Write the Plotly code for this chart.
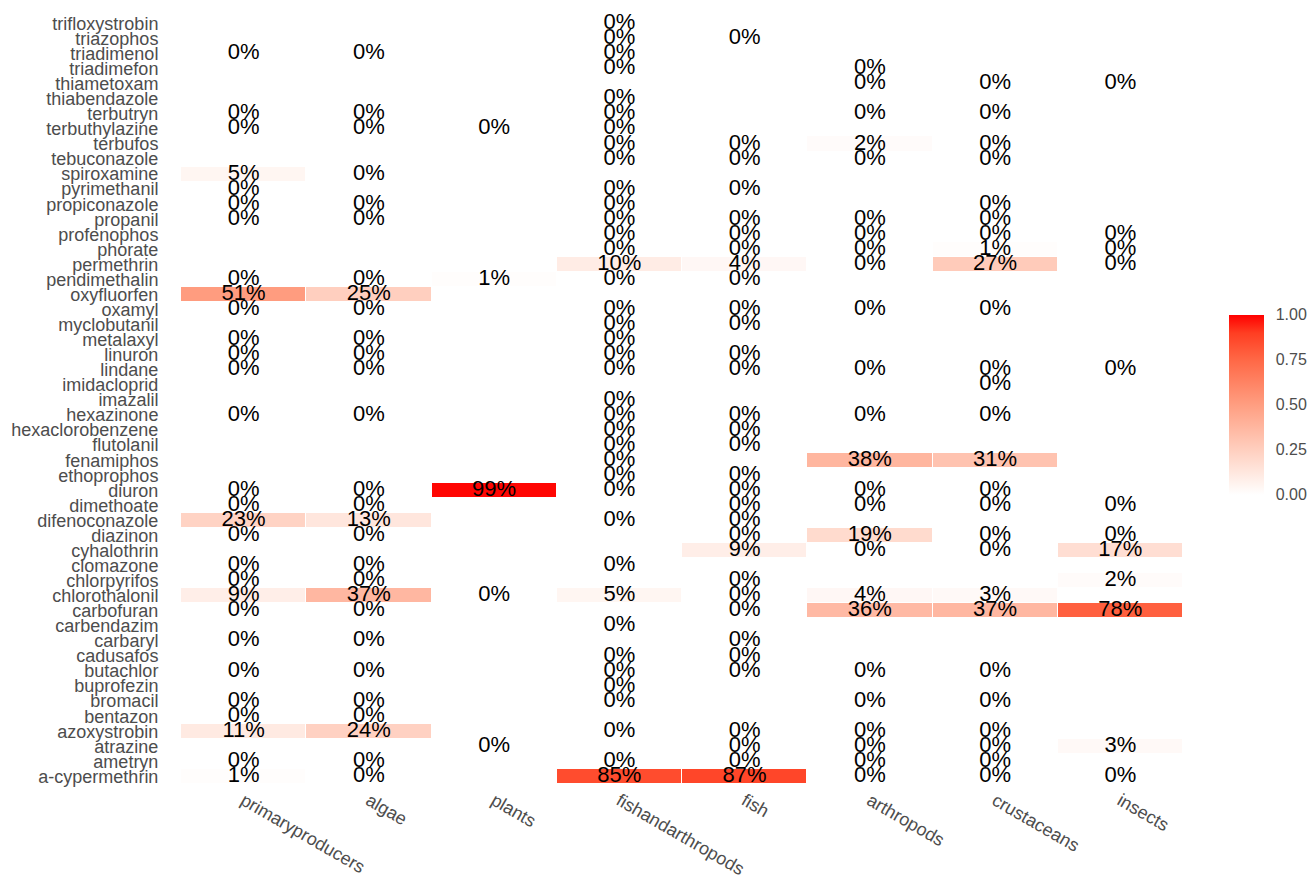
import plotly.graph_objects as go

pesticides = [
    "trifloxystrobin", "triazophos", "triadimenol", "triadimefon", "thiametoxam",
    "thiabendazole", "terbutryn", "terbuthylazine", "terbufos", "tebuconazole",
    "spiroxamine", "pyrimethanil", "propiconazole", "propanil", "profenophos",
    "phorate", "permethrin", "pendimethalin", "oxyfluorfen", "oxamyl",
    "myclobutanil", "metalaxyl", "linuron", "lindane", "imidacloprid",
    "imazalil", "hexazinone", "hexaclorobenzene", "flutolanil", "fenamiphos",
    "ethoprophos", "diuron", "dimethoate", "difenoconazole", "diazinon",
    "cyhalothrin", "clomazone", "chlorpyrifos", "chlorothalonil", "carbofuran",
    "carbendazim", "carbaryl", "cadusafos", "butachlor", "buprofezin",
    "bromacil", "bentazon", "azoxystrobin", "atrazine", "ametryn", "a-cypermethrin",
]

groups = ["primaryproducers", "algae", "plants", "fishandarthropods", "fish",
          "arthropods", "crustaceans", "insects"]

N = None
# one list per group, rows in the order of `pesticides` (None = no data)
primaryproducers = [N, N, 0, N, N, N, 0, 0, N, N, 0.05, 0, 0, 0, N, N, N, 0, 0.51, 0,
                    N, 0, 0, 0, N, N, 0, N, N, N, N, 0, 0, 0.23, 0, N, 0, 0, 0.09, 0,
                    N, 0, N, 0, N, 0, 0, 0.11, N, 0, 0.01]
algae = [N, N, 0, N, N, N, 0, 0, N, N, 0, N, 0, 0, N, N, N, 0, 0.25, 0,
         N, 0, 0, 0, N, N, 0, N, N, N, N, 0, 0, 0.13, 0, N, 0, 0, 0.37, 0,
         N, 0, N, 0, N, 0, 0, 0.24, N, 0, 0]
plants = [N, N, N, N, N, N, N, 0, N, N, N, N, N, N, N, N, N, 0.01, N, N,
          N, N, N, N, N, N, N, N, N, N, N, 0.99, N, N, N, N, N, N, 0, N,
          N, N, N, N, N, N, N, N, 0, N, N]
fishandarthropods = [0, 0, 0, 0, N, 0, 0, 0, 0, 0, N, 0, 0, 0, 0, 0, 0.10, 0, N, 0,
                     0, 0, 0, 0, N, 0, 0, 0, 0, 0, 0, 0, N, 0, N, N, 0, N, 0.05, N,
                     0, N, 0, 0, 0, 0, N, 0, N, 0, 0.85]
fish = [N, 0, N, N, N, N, N, N, 0, 0, N, 0, N, 0, 0, 0, 0.04, 0, N, 0,
        0, N, 0, 0, N, N, 0, 0, 0, N, 0, 0, 0, 0, 0, 0.09, N, 0, 0, 0,
        N, 0, 0, 0, N, N, N, 0, 0, 0, 0.87]
arthropods = [N, N, N, 0, 0, N, 0, N, 0.02, 0, N, N, N, 0, 0, 0, 0, N, N, 0,
              N, N, N, 0, N, N, 0, N, N, 0.38, N, 0, 0, N, 0.19, 0, N, N, 0.04, 0.36,
              N, N, N, 0, N, 0, N, 0, 0, 0, 0]
crustaceans = [N, N, N, N, 0, N, 0, N, 0, 0, N, N, 0, 0, 0, 0.01, 0.27, N, N, 0,
               N, N, N, 0, 0, N, 0, N, N, 0.31, N, 0, 0, N, 0, 0, N, N, 0.03, 0.37,
               N, N, N, 0, N, 0, N, 0, 0, 0, 0]
insects = [N, N, N, N, 0, N, N, N, N, N, N, N, N, N, 0, 0, 0, N, N, N,
           N, N, N, 0, N, N, N, N, N, N, N, N, 0, N, 0, 0.17, N, 0.02, N, 0.78,
           N, N, N, N, N, N, N, N, 0.03, N, 0]

columns = [primaryproducers, algae, plants, fishandarthropods, fish,
           arthropods, crustaceans, insects]

# z matrix: rows = pesticides, cols = groups
z = [[columns[j][i] for j in range(len(groups))] for i in range(len(pesticides))]

# text labels
tx, ty, tt = [], [], []
for i, p in enumerate(pesticides):
    for j, g in enumerate(groups):
        v = columns[j][i]
        if v is not None:
            tx.append(g)
            ty.append(p)
            tt.append(f"{round(v * 100)}%")

# white -> red interpolated in CIELAB (ggplot style)
colorscale = [
    [0.0, "rgb(255,255,255)"],
    [0.1, "rgb(255,236,229)"],
    [0.25, "rgb(255,207,191)"],
    [0.5, "rgb(255,158,129)"],
    [0.75, "rgb(255,104,70)"],
    [0.9, "rgb(255,62,34)"],
    [1.0, "rgb(255,0,0)"],
]

axis_font = dict(family="Liberation Sans, Arial, sans-serif", size=18, color="#4d4d4d")

fig = go.Figure()
fig.add_trace(go.Heatmap(
    x=groups, y=pesticides, z=z,
    zmin=0, zmax=1,
    colorscale=colorscale,
    xgap=1, ygap=1,
    hoverongaps=False,
    colorbar=dict(
        x=1.046, xanchor="left", xpad=0,
        y=0.494, yanchor="middle", ypad=0,
        len=180, lenmode="pixels",
        thickness=35, thicknessmode="pixels",
        outlinewidth=0,
        tickvals=[0, 0.25, 0.5, 0.75, 1.0],
        ticktext=["0.00", "0.25", "0.50", "0.75", "1.00"],
        ticks="outside", ticklen=9, tickcolor="rgba(0,0,0,0)",
        tickfont=dict(family="Liberation Sans, Arial, sans-serif", size=16, color="#4d4d4d"),
    ),
))
fig.add_trace(go.Scatter(
    x=tx, y=ty, text=tt, mode="text",
    textposition="middle center",
    textfont=dict(family="Liberation Sans, Arial, sans-serif", size=22, color="black"),
    hoverinfo="skip", showlegend=False, cliponaxis=False,
))

fig.update_layout(
    width=1315, height=878,
    margin=dict(l=181, r=132, t=16, b=94, autoexpand=False),
    paper_bgcolor="white", plot_bgcolor="white",
    showlegend=False,
    xaxis=dict(
        type="category", categoryorder="array", categoryarray=groups,
        tickmode="array", tickvals=groups, ticktext=groups,
        showgrid=False, zeroline=False, showline=False,
        tickangle=30, tickfont=axis_font, automargin=False,
        ticks="", ticklabelstandoff=2,
        range=[-0.5, len(groups) - 0.5],
    ),
    yaxis=dict(
        type="category", categoryorder="array", categoryarray=pesticides,
        tickmode="array", tickvals=pesticides, ticktext=pesticides,
        range=[len(pesticides) - 0.5, -0.5], automargin=False,
        showgrid=False, zeroline=False, showline=False,
        tickfont=axis_font,
        ticks="outside", ticklen=18, tickcolor="rgba(0,0,0,0)",
    ),
)

fig.write_html("out.html")
